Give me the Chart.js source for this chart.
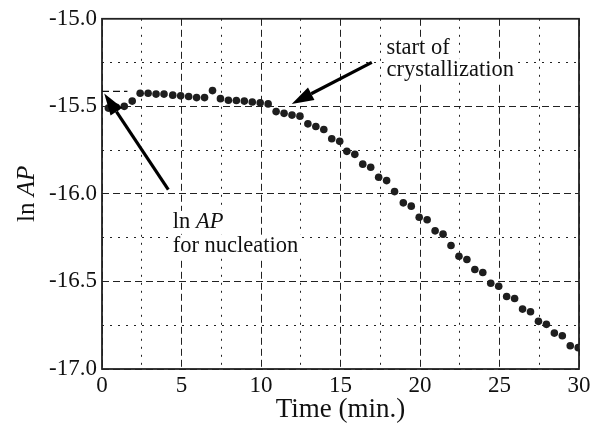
<!DOCTYPE html>
<html>
<head>
<meta charset="utf-8">
<script src="https://cdn.jsdelivr.net/npm/chart.js@4.4.0/dist/chart.umd.min.js"></script>
<style>
  body { margin: 0; background: #fff; }
</style>
</head>
<body>
<canvas id="c" width="602" height="430"></canvas>
<script>
// time (min.) and ln AP
const times = [0.4, 0.9, 1.4, 1.9, 2.4, 2.9, 3.4, 3.9, 4.45, 4.95, 5.45, 5.95, 6.45, 6.95, 7.45, 7.95,
  8.45, 8.95, 9.45, 9.95, 10.45, 10.95, 11.45, 11.95, 12.45, 12.95, 13.45, 13.95, 14.45, 14.95,
  15.4, 15.9, 16.4, 16.9, 17.4, 17.9, 18.4, 18.95, 19.45, 19.95, 20.45, 20.95, 21.45, 21.95,
  22.45, 22.95, 23.45, 23.95, 24.45, 24.95, 25.45, 25.95, 26.45, 26.95, 27.45, 27.95, 28.45,
  28.95, 29.45, 29.95];
const lnAP = [-15.51, -15.505, -15.50, -15.47, -15.425, -15.425, -15.43, -15.43, -15.436, -15.44,
  -15.444, -15.45, -15.45, -15.41, -15.456, -15.465, -15.467, -15.47, -15.475, -15.48, -15.486,
  -15.53, -15.54, -15.55, -15.556, -15.60, -15.615, -15.632, -15.685, -15.70,
  -15.757, -15.774, -15.830, -15.848, -15.905, -15.924, -15.987, -16.051, -16.07, -16.133,
  -16.148, -16.211, -16.23, -16.295, -16.356, -16.375, -16.432, -16.449, -16.51, -16.527,
  -16.586, -16.597, -16.658, -16.673, -16.728, -16.745, -16.795, -16.81, -16.867, -16.878];

// short dashed level line for nucleation
const nucTimes = [0, 1.6];
const nucLevel = [-15.415, -15.415];

// axis ranges / steps
const xRange = [0, 30], xMajor = 5, xMinor = 2.5;
const yRange = [-17, -15], yMajor = 0.5, yMinor = 0.25;

// annotations: [tailX, tailY, tipX, tipY]
const arrows = [
  [4.17, -15.976, 0.14, -15.426],
  [16.97, -15.249, 11.93, -15.486]
];

const FONT = "'Liberation Serif', 'Times New Roman', serif";
const INK = '#1e1e1e';
const NOTE = '22.5px ';

function pts(xs, ys) {
  let out = [];
  for (let i = 0; i < xs.length; i++) out.push({x: xs[i], y: ys[i]});
  return out;
}

function arrow(ctx, x1, y1, x2, y2) {
  const a = Math.atan2(y2 - y1, x2 - x1);
  const len = 22, hw = 7;
  const bx = x2 - len * Math.cos(a), by = y2 - len * Math.sin(a);
  ctx.beginPath();
  ctx.moveTo(x1, y1);
  ctx.lineTo(bx, by);
  ctx.lineWidth = 3.2;
  ctx.strokeStyle = '#000';
  ctx.stroke();
  ctx.beginPath();
  ctx.moveTo(x2, y2);
  ctx.lineTo(bx + hw * Math.sin(a), by - hw * Math.cos(a));
  ctx.lineTo(bx - hw * Math.sin(a), by + hw * Math.cos(a));
  ctx.closePath();
  ctx.fillStyle = '#000';
  ctx.fill();
}

function textWidth(ctx, parts) {
  let w = 0;
  parts.forEach(p => { ctx.font = (p[1] ? 'italic ' : '') + NOTE + FONT; w += ctx.measureText(p[0]).width; });
  return w;
}

const decor = {
  id: 'decor',
  beforeDatasetsDraw(chart) {
    const {ctx, chartArea: a} = chart;
    ctx.save();
    ctx.lineWidth = 1.8;
    ctx.strokeStyle = '#222';
    ctx.strokeRect(a.left, a.top, a.right - a.left, a.bottom - a.top);
    ctx.restore();
  },
  afterDraw(chart) {
    const {ctx, chartArea: a} = chart;
    const xs = chart.scales.x, ys = chart.scales.y;
    ctx.save();

    // text boxes
    const lines = [
      {x: 17.9, y: -15.202, parts: [['start of', false]]},
      {x: 17.9, y: -15.327, parts: [['crystallization', false]]},
      {x: 4.45, y: -16.194, parts: [['ln ', false], ['AP', true]]},
      {x: 4.45, y: -16.331, parts: [['for nucleation', false]]}
    ];
    lines.forEach(l => {
      const px = xs.getPixelForValue(l.x), py = ys.getPixelForValue(l.y);
      const w = textWidth(ctx, l.parts);
      ctx.fillStyle = '#fff';
      ctx.fillRect(px - 3, py - 17, w + 6, 23);
    });
    ctx.textBaseline = 'alphabetic';
    ctx.textAlign = 'left';
    ctx.fillStyle = '#111';
    lines.forEach(l => {
      let px = xs.getPixelForValue(l.x);
      const py = ys.getPixelForValue(l.y);
      l.parts.forEach(p => {
        ctx.font = (p[1] ? 'italic ' : '') + NOTE + FONT;
        ctx.fillText(p[0], px, py);
        px += ctx.measureText(p[0]).width;
      });
    });

    arrows.forEach(r => {
      arrow(ctx, xs.getPixelForValue(r[0]), ys.getPixelForValue(r[1]),
        xs.getPixelForValue(r[2]), ys.getPixelForValue(r[3]));
    });

    // y title "ln AP"
    ctx.translate(27, (a.top + a.bottom) / 2);
    ctx.rotate(-Math.PI / 2);
    ctx.font = '25px ' + FONT;
    const w1 = ctx.measureText('ln ').width;
    ctx.font = 'italic 25px ' + FONT;
    const w2 = ctx.measureText('AP').width;
    ctx.textBaseline = 'middle';
    ctx.fillStyle = '#111';
    ctx.font = '25px ' + FONT;
    ctx.fillText('ln ', -(w1 + w2) / 2, 0);
    ctx.font = 'italic 25px ' + FONT;
    ctx.fillText('AP', -(w1 + w2) / 2 + w1, 0);
    ctx.restore();
  }
};

const minorColor = step => c => {
  const v = c.tick ? c.tick.value : 0;
  return Math.abs(v / step - Math.round(v / step)) < 1e-6 ? 'rgba(0,0,0,0)' : '#222';
};

new Chart(document.getElementById('c').getContext('2d'), {
  type: 'scatter',
  data: {
    datasets: [{
      data: pts(times, lnAP),
      pointRadius: 3.8,
      pointBackgroundColor: INK,
      pointBorderWidth: 0,
      showLine: false
    }, {
      data: pts(nucTimes, nucLevel),
      showLine: true,
      pointRadius: 0,
      borderColor: '#111',
      borderWidth: 1.3,
      borderDash: [7, 4]
    }]
  },
  options: {
    responsive: false,
    animation: false,
    layout: {padding: {left: 0, right: 23, top: 17, bottom: 0}},
    plugins: {legend: {display: false}, tooltip: {enabled: false}},
    scales: {
      x: {
        type: 'linear', min: xRange[0], max: xRange[1],
        afterFit: s => { s.height = 61; },
        ticks: {stepSize: xMajor, color: '#111', padding: 3, font: {family: FONT, size: 23}},
        grid: {color: '#222', lineWidth: 1, drawTicks: false},
        border: {display: false, dash: [7, 4]},
        title: {display: true, text: 'Time (min.)', color: '#111', padding: {top: 0},
          font: {family: FONT, size: 27}}
      },
      x2: {
        type: 'linear', position: 'bottom', min: xRange[0], max: xRange[1],
        afterFit: s => { s.height = 0; },
        ticks: {stepSize: xMinor, display: false},
        grid: {color: minorColor(xMajor), lineWidth: 1, drawTicks: false},
        border: {display: false, dash: [2, 6]}
      },
      y: {
        type: 'linear', min: yRange[0], max: yRange[1],
        afterFit: s => { s.width = 102; },
        ticks: {stepSize: yMajor, color: '#111', padding: 5, font: {family: FONT, size: 23},
          callback: v => v.toFixed(1)},
        grid: {color: '#222', lineWidth: 1, drawTicks: false},
        border: {display: false, dash: [7, 4]}
      },
      y2: {
        type: 'linear', position: 'left', min: yRange[0], max: yRange[1],
        afterFit: s => { s.width = 0; },
        ticks: {stepSize: yMinor, display: false},
        grid: {color: minorColor(yMajor), lineWidth: 1, drawTicks: false},
        border: {display: false, dash: [2, 6]}
      }
    }
  },
  plugins: [decor]
});
</script>
</body>
</html>
